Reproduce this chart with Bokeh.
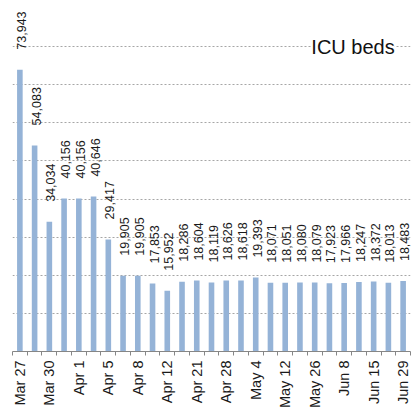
import math
from bokeh.plotting import figure
from bokeh.models import ColumnDataSource, FixedTicker, Grid, SingleIntervalTicker, Range1d, Label
from bokeh.core.properties import value
from bokeh.embed import file_html
from bokeh.resources import INLINE

# ---- data ----
values = [73943, 54083, 34034, 40156, 40156, 40646, 29417, 19905, 19905, 17853,
          15952, 18286, 18604, 18119, 18626, 18618, 19393, 18071, 18051, 18080,
          18079, 17923, 17966, 18247, 18372, 18013, 18483]
tick_labels = ["Mar 27", "Mar 30", "Apr 1", "Apr 5", "Apr 8", "Apr 12", "Apr 21",
               "Apr 28", "May 4", "May 12", "May 26", "Jun 8", "Jun 15", "Jun 29"]
title_text = "ICU beds"

idx = list(range(len(values)))
labels = [f"{v:,}" for v in values]
src = ColumnDataSource(data=dict(x=idx, top=values, label=labels))

FONT = "'Liberation Sans', Arial, sans-serif"

p = figure(width=416, height=411, output_backend="svg", toolbar_location=None,
           x_range=Range1d(-0.5, len(values) - 0.5), y_range=Range1d(0, 90000),
           y_axis_location=None)
p.min_border_left = 12
p.min_border_right = 6
p.min_border_top = 8
p.min_border_bottom = 60
p.outline_line_color = None
p.background_fill_color = "white"
p.border_fill_color = "white"

# grid
p.xgrid.visible = False
for g in p.ygrid:
    g.visible = False
ygrid = Grid(dimension=1, ticker=SingleIntervalTicker(interval=10000),
             grid_line_color="#A6A6A6", grid_line_dash="2 2", grid_line_width=1)
p.add_layout(ygrid, "center")

# bars
p.vbar(x="x", top="top", width=0.38, bottom=0, source=src,
       fill_color="#95B3D7", line_color=None)

# value labels
p.text(x="x", y="top", text="label", source=src, angle=math.pi / 2,
       text_align="left", text_baseline="middle", x_offset=1.5, y_offset=-20,
       text_font=value(FONT), text_font_size="12.5px", text_color="#1a1a1a")

# x axis
ax = p.xaxis[0]
major = idx[::2]
ax.ticker = FixedTicker(ticks=major, minor_ticks=[i - 0.5 for i in range(len(values) + 1)])
ax.major_label_overrides = {i: t for i, t in zip(major, tick_labels)}
ax.major_label_orientation = math.pi / 2
ax.major_tick_out = 0
ax.major_tick_in = 0
ax.minor_tick_out = 4
ax.minor_tick_in = 0
ax.axis_line_color = "#868686"
ax.minor_tick_line_color = "#868686"
ax.major_label_standoff = 5
ax.major_label_text_font = FONT
ax.major_label_text_font_size = "14.5px"
ax.major_label_text_color = "#1a1a1a"

# title
p.add_layout(Label(x=22.6, y=80000, text=title_text,
                   text_align="center", text_baseline="middle",
                   text_font=FONT, text_font_size="20px", text_color="#111111",
                   background_fill_color="white"))

open("out.html", "w").write(file_html(p, INLINE))
